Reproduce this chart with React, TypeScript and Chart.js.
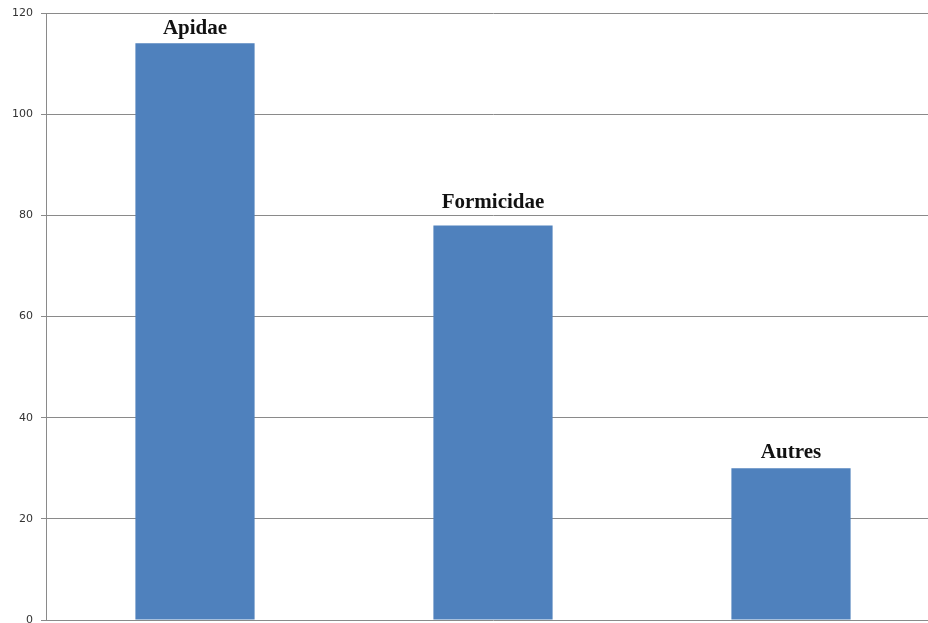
import React, { useEffect, useRef } from "react";
import { Chart, registerables } from "chart.js";

Chart.register(...registerables);

const categories = ["Apidae", "Formicidae", "Autres"];
const values = [114, 78, 30];
const yTicks = [0, 20, 40, 60, 80, 100, 120];

// gap in pixels between each label's baseline and its bar top (layout only)
const labelGaps = [9, 17, 10];

const barLabelPlugin = {
  id: "barLabels",
  afterDatasetsDraw(chart: any) {
    const ctx = chart.ctx;
    const meta = chart.getDatasetMeta(0);
    ctx.save();
    ctx.font = "bold 21px 'Liberation Serif', 'DejaVu Serif', serif";
    ctx.fillStyle = "#111";
    ctx.textAlign = "center";
    ctx.textBaseline = "alphabetic";
    meta.data.forEach((bar: any, i: number) => {
      ctx.fillText(categories[i], bar.x, bar.y - labelGaps[i]);
    });
    ctx.restore();
  },
};

export default function App() {
  const ref = useRef<HTMLCanvasElement>(null);
  useEffect(() => {
    document.body.style.margin = "0";
    const chart = new Chart(ref.current!, {
      type: "bar",
      data: {
        labels: categories,
        datasets: [
          {
            data: values,
            backgroundColor: "#4F81BD",
            barPercentage: 0.4,
            categoryPercentage: 1,
          },
        ],
      },
      options: {
        animation: false,
        responsive: false,
        layout: { padding: { top: 13, bottom: 3, left: 0, right: 0 } },
        plugins: { legend: { display: false }, tooltip: { enabled: false } },
        scales: {
          x: { display: false },
          y: {
            min: 0,
            max: 120,
            afterFit: (s: any) => {
              s.width = 46;
              s.paddingTop = 0;
              s.paddingBottom = 0;
            },
            afterBuildTicks: (s: any) => {
              s.ticks = yTicks.map((v) => ({ value: v }));
            },
            ticks: {
              padding: 8,
              color: "#333",
              font: { family: "'DejaVu Sans', Verdana, sans-serif", size: 11 },
            },
            grid: { color: "#8a8a8a", tickLength: 5, lineWidth: 1 },
            border: { display: true, color: "#8a8a8a" },
          },
        },
      },
      plugins: [barLabelPlugin],
    });
    return () => chart.destroy();
  }, []);
  return (
    <div style={{ width: 928, height: 623, overflow: "hidden", background: "#fff" }}>
      <canvas ref={ref} width={940} height={623} style={{ display: "block" }} />
    </div>
  );
}
